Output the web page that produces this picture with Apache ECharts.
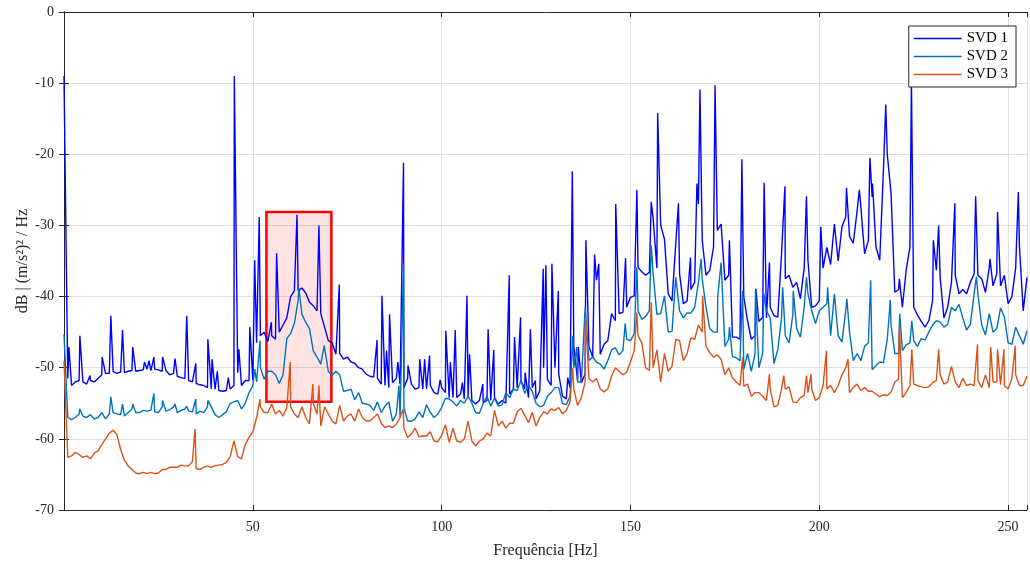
<!DOCTYPE html>
<html>
<head>
<meta charset="utf-8">
<script src="https://cdn.jsdelivr.net/npm/echarts@6.0.0/dist/echarts.min.js"></script>
<style>
  html, body { margin: 0; padding: 0; background: #ffffff; }
  #svdChart { width: 1030px; height: 565px; }
</style>
</head>
<body>
<div id="svdChart"></div>
<script>
  // noise floor of each singular value, one value per Hz (0..255)
  let svd1Base = [
    -9, -51.5, -52.5, -52, -51.8, -52, -52.3, -51.8, -52, -51.5,
    -51, -50.8, -50.8, -50.5, -50.8, -50.6, -50.7, -50.5, -50.4, -50.5,
    -50.4, -50.3, -50.2, -50.4, -50.2, -50.3, -50.5, -50.4, -51, -50.8,
    -51.2, -51.4, -51.5, -51.8, -52, -52.2, -52.4, -52.5, -52.8, -53,
    -53, -53.2, -53.3, -53.2, -53, -52.5, -50.7, -52.5, -51.8, -51.8,
    -51.8, -46.5, -45.5, -45, -46.3, -45.5, -46, -45, -44, -43,
    -40, -39.2, -39.2, -38.8, -39.5, -40.8, -41.3, -42, -42.4, -44.3,
    -46.2, -46.5, -48.1, -48, -48.8, -48.5, -49.2, -49.4, -50, -50.2,
    -50.9, -51.2, -51.3, -51.5, -52.3, -52.5, -52.8, -52.1, -51.5, -52.3,
    -52.8, -51.5, -52.3, -53, -52.8, -53, -53, -52.5, -53.5, -53.7,
    -52.8, -53.5, -54.2, -54.2, -54.2, -53.7, -54.4, -54, -54.6, -55.1,
    -54.6, -54.9, -54.6, -54.6, -54.2, -55.1, -54.6, -55, -53.7, -53,
    -52.8, -51.8, -53, -54.2, -52.8, -54.4, -53.2, -50, -51.6, -52.5,
    -50, -50.9, -54, -54.4, -52.8, -47, -51.8, -52.1, -50.9, -47,
    -48.5, -37.7, -48.1, -46.7, -46.2, -42.4, -43.4, -42.4, -42.2, -41.5,
    -40.1, -39.9, -35.9, -36.5, -37, -36.6, -29, -36, -30, -31.9,
    -39.6, -40.6, -32.5, -36.8, -41, -40.6, -39, -38, -27, -32.1,
    -37, -36.3, -33, -30.7, -29.8, -37.7, -37, -45.7, -45.7, -46,
    -40, -43.4, -46, -45.5, -43.5, -42.9, -43, -41.5, -42.7, -42.9,
    -34, -37.5, -37, -38.7, -38, -40.3, -36, -35, -41.5, -41.3,
    -40.6, -36, -33.1, -35.5, -29.8, -35, -30.2, -28.8, -31.5, -32.5,
    -28, -27.4, -34, -32.1, -26, -33, -34.9, -22, -20, -25.5,
    -39.4, -39, -41.5, -36.3, -33, -41.5, -42.6, -43.5, -44.3, -43.4,
    -40.6, -36.3, -37.3, -43, -41.5, -38, -37, -39.6, -39, -39.6,
    -38, -36.8, -37, -37.5, -39.4, -36, -38.5, -36.8, -38.5, -37,
    -41, -40, -36, -33, -42, -37.3
  ]
  let svd2Base = [
    -45.3, -57, -57.3, -57, -56.5, -56.8, -57, -56.6, -57.2, -57,
    -56.3, -57.2, -56.5, -56.3, -56.5, -56.6, -56.8, -56.3, -55.8, -56.3,
    -56.3, -56, -56.1, -56, -56.2, -56.3, -55.5, -56.1, -55.9, -55.5,
    -56.3, -56, -55.8, -56.1, -56.2, -56.5, -56.1, -56.3, -55.5, -55.5,
    -56.6, -57, -56.6, -56.2, -55, -54.8, -54.6, -55.8, -55, -53.5,
    -52.5, -52, -50, -51.6, -50.5, -50.5, -51, -52.2, -51, -45.9,
    -45.2, -43.8, -40.5, -42.5, -43.6, -44.5, -47.6, -48.5, -49.5, -47,
    -50.5, -51.1, -50.5, -51, -53.3, -53.2, -53, -54.5, -53.5, -55,
    -55.1, -55.3, -56, -54.8, -56.3, -55.4, -54.8, -57.5, -56.5, -57,
    -55.6, -57.5, -57.5, -57.2, -56.2, -57, -55.2, -56.3, -57, -56.5,
    -55.6, -54.3, -54.4, -54.8, -55.4, -54.6, -55, -54, -55, -56.3,
    -56.4, -55, -54, -55.4, -54.3, -55.4, -55.2, -53.5, -54.2, -53,
    -53.2, -51.8, -53.6, -52.5, -53.3, -55, -55.5, -55.3, -54, -53.5,
    -52.8, -52.8, -55, -55.2, -54, -50, -52, -52, -41.5, -49,
    -48.5, -49.2, -49.5, -50.2, -49, -47.5, -47.2, -48.2, -47.6, -46,
    -46.2, -45.2, -42, -43.2, -42.8, -42, -36.8, -42.5, -42.4, -39.9,
    -45, -44.9, -37.3, -42, -43, -42.3, -42.3, -41.5, -38, -37.5,
    -41.5, -44.5, -45, -45, -35.2, -47, -46, -48.4, -48.6, -49,
    -50.2, -48, -50.5, -48, -50, -48, -42, -43, -49.4, -47.5,
    -43, -45.5, -46.5, -42.5, -44.5, -45.7, -41.5, -39.6, -42, -43.8,
    -42, -41.5, -41, -45.5, -39.6, -45.5, -46.4, -42, -45, -49,
    -48, -49, -47, -46.5, -50.3, -49.7, -49.2, -49.3, -46, -44,
    -48, -48, -47.6, -46.8, -46.5, -46.2, -47, -45.9, -46.1, -45,
    -44, -43.4, -43.6, -44.3, -43.9, -41.5, -42, -41.1, -43, -44.7,
    -43.9, -39.6, -39.6, -44, -45.4, -42.4, -45, -44.5, -41.6, -42.8,
    -46.5, -46.7, -44.3, -45.5, -46.7, -44.8
  ]
  let svd3Base = [
    -49, -62.6, -62.4, -61.9, -62.2, -62.6, -62.4, -62.8, -62, -61.7,
    -60.8, -60, -59.2, -58.8, -59.4, -61.5, -63, -63.8, -64.3, -64.8,
    -64.9, -64.7, -64.9, -64.7, -64.9, -64.8, -64.3, -64.3, -64, -64,
    -64, -63.7, -63.8, -63.8, -63.2, -64.2, -64.3, -64, -63.8, -64,
    -63.8, -63.7, -63.6, -63.3, -62.5, -60.3, -62.5, -62.8, -60.8, -59.8,
    -59, -57, -55.5, -56.3, -56.3, -55.1, -56.5, -56, -56.8, -55.6,
    -55.5, -56.5, -57, -55.5, -57, -57.9, -55, -56.5, -58.2, -55.5,
    -56.5, -57.5, -57.9, -55.3, -57.5, -56.8, -56.5, -57.5, -55.8, -57,
    -57.5, -57.5, -57, -56.5, -57.8, -58.4, -58.2, -58.4, -57.9, -57,
    -58.5, -59.8, -59.3, -58.5, -59.7, -59.6, -59.6, -59, -60.3, -60.4,
    -59.5, -58, -60.5, -58.5, -60.3, -60.5, -60, -57.5, -60.3, -61,
    -60.3, -60, -59.2, -59.6, -56, -58.2, -57.5, -58.5, -57.8, -57.8,
    -56.2, -55.7, -56.7, -57.7, -56.3, -58.2, -57, -56.2, -56.5, -55.8,
    -56, -55.6, -56.5, -56, -54.8, -53, -55.3, -54.2, -52, -51.5,
    -52, -51.5, -53, -53.4, -53, -51.2, -50, -50.5, -51, -50.6,
    -49.2, -47.6, -45.5, -46.5, -50, -50.4, -50, -47.5, -52, -48,
    -50.5, -49.8, -46, -46.2, -49, -48, -45.8, -46, -44, -45,
    -47, -47.9, -48.5, -48.2, -48.8, -51, -50, -51.4, -52, -52.5,
    -52.6, -52.3, -54, -53.5, -53.5, -54, -54.6, -53, -55.5, -55.3,
    -53, -53, -52.7, -54.8, -54.9, -54.2, -53.9, -53.5, -53, -54.6,
    -54.2, -52.5, -53, -52.5, -53.5, -52.5, -51, -50, -53.5, -52.8,
    -52.3, -53.2, -52.8, -53.3, -53.3, -53.7, -54.1, -53.8, -53.9, -53.4,
    -52, -51.6, -54.2, -53.5, -52.5, -52.3, -52.5, -52.7, -52.8, -52.7,
    -52.1, -51.8, -51, -52.3, -52, -49.8, -52, -52.8, -51.5, -52.5,
    -52.3, -52.5, -51.8, -52.8, -51, -52.8, -52, -52, -52.4, -52.5,
    -53, -51.5, -51, -52.5, -52.5, -51.2
  ]

  // narrow spectral peaks [Hz, dB]
  let svd1Peaks = [
    [1.3, -47.1], [4.2, -45.5], [6.9, -51.1], [10.1, -48.5], [12.4, -42.7], [15.5, -44.7], [18.2, -47.1],
    [21.3, -49.2], [22.5, -49], [23.8, -48.5], [26.1, -48.5], [26.6, -48.3], [29.4, -48.7], [32.5, -42.7],
    [34.9, -49.4], [38.1, -46], [39.2, -48.8], [40.6, -50.5], [43.5, -51.4], [45.1, -9], [46.3, -47.4],
    [49.2, -44.3], [50.5, -34.9], [51.7, -28.8], [54.9, -43.6], [56.3, -33.9], [61.7, -28.5], [67.5, -30],
    [72.9, -38.3], [82.9, -46.1], [84.2, -39.9], [85.4, -47.6], [86.2, -42.5],
    [88.4, -49.2], [89.9, -21.2], [91.1, -49.7], [94.2, -48.8], [95.5, -48.8], [96.8, -48.3], [99.6, -51.7],
    [101.1, -44.8], [102.3, -49.2], [103.6, -44.7], [105.5, -52.1], [106.7, -39.9], [107.4, -48.1],
    [110.9, -52.3], [112.3, -44.6], [113.8, -47.5], [117.9, -37], [119.3, -45.7], [120.9, -42.9],
    [122.1, -50.7], [123.5, -44.6], [124.8, -51.8], [126.9, -36.1], [127.6, -35.6], [129.2, -35.4], [130.9, -39.2],
    [133.4, -51.4], [134.6, -22.4], [136.2, -47.1], [138.2, -32.1], [140.5, -34.1], [141.6, -35.4],
    [146.1, -27], [148.7, -34.6], [151.7, -25], [155.5, -26.7], [157.2, -14.2], [162.7, -26.9],
    [165.9, -34.5], [167.6, -24.1], [168.4, -10.9], [172.4, -10.3],
    [176.2, -32.1], [179.5, -20.7], [183.2, -38.9], [185.4, -24], [186.8, -35.2], [190.9, -24.5],
    [196.6, -25.9], [200.4, -30.2], [207.2, -24.7], [210.6, -25], [213.4, -20.5], [214.1, -24.1], [217.6, -13],
    [221.2, -37.5], [224.4, -9.8], [230.2, -32.1], [231.6, -30], [235.9, -26.9], [241.4, -25.9],
    [245.2, -34.7], [247.2, -28.1], [252.7, -25.3]
  ]
  let svd2Peaks = [
    [4.2, -55.8], [12.4, -54.1], [15.5, -55.1], [18.2, -55.1], [23.8, -53.6], [26.1, -54.6], [29.4, -55.1],
    [32.5, -55.4], [34.9, -54.4], [38.1, -54.6], [50.5, -50.2], [51.9, -46.2], [62.2, -38.8], [68.9, -46.9],
    [88.7, -52.5], [89.9, -35.4], [134.7, -45.5], [135.8, -47.1], [148.6, -43.8], [151.7, -35.9],
    [155.5, -32.8], [168.7, -34.7], [173.1, -40.1], [176.2, -44.3], [179.7, -39.2], [183.1, -39.2],
    [185.3, -39.6], [190.3, -38.7], [193.1, -39.2], [196.6, -37.3], [202.2, -38.7], [207.3, -40.3],
    [213.6, -37.7], [218.8, -40.5], [221.3, -42.4], [224.5, -43.4], [241.6, -37.2]
  ]
  let svd3Peaks = [
    [34.7, -58.6], [51.9, -54.4], [59.9, -49.2], [65.9, -52.3], [67.5, -52.5], [89.8, -55.8],
    [134.7, -50], [138.1, -42.9], [151.7, -42.2], [155.5, -40.8], [169.1, -39.9], [179.7, -48.5],
    [186.8, -50.9], [190.6, -51.1], [196.6, -51.1], [197.8, -50.9], [201.9, -47.6], [207.6, -48.8],
    [221.2, -44], [224.5, -47.4], [231.6, -47.4], [241.9, -46.7], [245.4, -47.1], [247.2, -47.4],
    [248.9, -47.4], [251.9, -46.9]
  ]

  let seriesNames = ['SVD 1', 'SVD 2', 'SVD 3']
  let xTicks = [50, 100, 150, 200, 250]
  // highlighted region [Hz, dB]
  let boxFrom = [53.6, -28.1]
  let boxTo = [70.8, -54.8]

  // base points plus peaks, ordered by frequency
  function buildLine(base, peaks) {
    let pts = base.map(function (v, i) { return [i, v] })
    peaks.forEach(function (p) { pts.push(p) })
    pts.sort(function (a, b) { return a[0] - b[0] })
    return pts
  }

  const font = 'Liberation Serif'
  const axisColor = '#262626'

  // top / right edges of the box, ticks only
  function frameAxis(pos) {
    return {
      type: 'value',
      position: pos,
      min: pos === 'top' ? 0 : -70,
      max: pos === 'top' ? 255 : 0,
      interval: pos === 'top' ? 50 : 10,
      axisLine: { show: true, lineStyle: { color: axisColor, width: 1 } },
      axisTick: { show: true, inside: true, length: 5, lineStyle: { color: axisColor } },
      axisLabel: { show: false },
      splitLine: { show: false }
    }
  }

  function lineSeries(name, data) {
    return {
      name: name,
      type: 'line',
      showSymbol: false,
      symbol: 'none',
      lineStyle: { width: 1.4 },
      data: data
    }
  }

  let myChart = echarts.init(document.getElementById('svdChart'))
  let s3 = lineSeries(seriesNames[2], buildLine(svd3Base, svd3Peaks))
  s3.markArea = {
    silent: true,
    itemStyle: { color: 'rgba(255,0,0,0.11)', borderColor: '#ff0000', borderWidth: 2.5 },
    data: [[{ coord: boxFrom }, { coord: boxTo }]]
  }

  myChart.setOption({
    animation: false,
    backgroundColor: '#ffffff',
    color: ['#0000ff', '#0072bd', '#d95319'],
    grid: { left: 64, right: 2, top: 12, bottom: 55 },
    legend: {
      orient: 'vertical',
      right: 14,
      top: 26,
      padding: [5, 8, 5, 5],
      icon: 'rect',
      itemWidth: 48,
      itemHeight: 1.5,
      itemGap: 3,
      backgroundColor: '#ffffff',
      borderColor: axisColor,
      borderWidth: 1,
      textStyle: { fontFamily: font, fontSize: 15, color: '#000000' },
      data: seriesNames
    },
    xAxis: [{
      type: 'value',
      min: 0,
      max: 255,
      interval: 50,
      name: 'Frequência [Hz]',
      nameLocation: 'middle',
      nameGap: 33,
      nameMoveOverlap: false,
      nameTextStyle: { fontFamily: font, fontSize: 16, color: axisColor },
      axisLine: { show: true, onZero: false, lineStyle: { color: axisColor, width: 1 } },
      axisTick: { show: true, inside: true, length: 5, lineStyle: { color: axisColor } },
      axisLabel: {
        fontFamily: font, fontSize: 14, color: axisColor, margin: 10,
        formatter: function (v) { return xTicks.indexOf(v) >= 0 ? String(v) : '' }
      },
      splitLine: { show: true, lineStyle: { color: '#dfdfdf', width: 1 } }
    }, frameAxis('top')],
    yAxis: [{
      type: 'value',
      min: -70,
      max: 0,
      interval: 10,
      name: 'dB | (m/s²)² / Hz',
      nameLocation: 'middle',
      nameGap: 33,
      nameMoveOverlap: false,
      nameTextStyle: { fontFamily: font, fontSize: 16, color: axisColor },
      axisLine: { show: true, onZero: false, lineStyle: { color: axisColor, width: 1 } },
      axisTick: { show: true, inside: true, length: 5, lineStyle: { color: axisColor } },
      axisLabel: { fontFamily: font, fontSize: 14, color: axisColor, margin: 10 },
      splitLine: { show: true, lineStyle: { color: '#dfdfdf', width: 1 } }
    }, frameAxis('right')],
    series: [
      lineSeries(seriesNames[0], buildLine(svd1Base, svd1Peaks)),
      lineSeries(seriesNames[1], buildLine(svd2Base, svd2Peaks)),
      s3
    ]
  })
</script>
</body>
</html>
